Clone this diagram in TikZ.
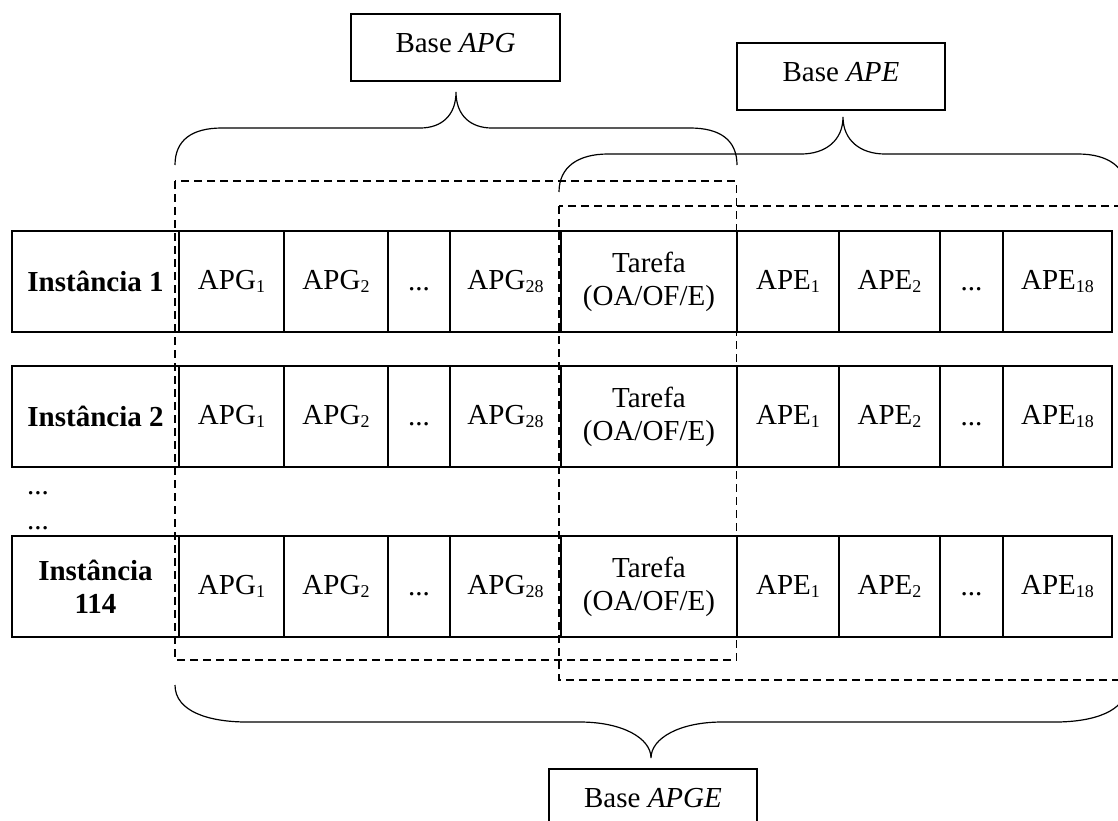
\documentclass[tikz,border=0pt]{standalone}
\usepackage{fontspec}
\setmainfont{Liberation Serif}
% lowered, smaller index used in the cell labels
\newcommand\idx[1]{\raisebox{-2.5pt}{\fontsize{18}{18}\selectfont #1}}
\begin{document}
\begin{tikzpicture}[x=1pt,y=-1pt,
  cell/.style={draw, line width=1.3pt, inner sep=0pt, align=center,
    font=\fontsize{29}{33}\selectfont},
  bx/.style={draw, line width=1.3pt, inner sep=0pt},
  lbl/.style={inner sep=0pt, font=\fontsize{29}{33}\selectfont},
  region/.style={line width=1.5pt, dash pattern=on 8pt off 5pt},
  brace/.style={line width=1.2pt}]

\useasboundingbox (0,0) rectangle (1118,820);

% one instance row: #1 = name prefix, #2 = vertical centre, #3 = row label
\newcommand\instrow[3]{%
  \foreach \cx/\cw/\txt [count=\k from 0] in {
      95.5/167/{#3},
      231.5/105/{APG\idx{1}},
      336/104/{APG\idx{2}},
      419/62/{\vphantom{A}...},
      505.5/111/{APG\idx{28}},
      649/176/{Tarefa\\(OA/OF/E)},
      788/102/{APE\idx{1}},
      889.5/101/{APE\idx{2}},
      971.5/63/{\vphantom{A}...},
      1057.5/109/{APE\idx{18}}}
    \node[cell, minimum width=\cw*1pt, minimum height=101pt] (#1c\k) at (\cx,#2) {\txt};
}

\instrow{ra}{281.5}{\textbf{Instância 1}}
\instrow{rb}{416.5}{\textbf{Instância 2}}
\instrow{rc}{586.5}{\textbf{Instância}\\\textbf{114}}

% elided rows
\node[lbl, anchor=base west] (dota) at (27,494) {...};
\node[lbl, anchor=base west] (dotb) at (27,529) {...};

% dashed regions of the two feature groups
\draw[region] (175,181) rectangle (736.5,660);
\draw[region] (559,206) rectangle (1140,680);

% brace over the APG part
\draw[brace] (175,165) .. controls (175,140) and (192,128) .. (222,128)
  -- (420,128) .. controls (442,128) and (456,115) .. (456,92)
  .. controls (456,115) and (470,128) .. (492,128)
  -- (690,128) .. controls (720,128) and (737,140) .. (737,165);

% brace over the APE part
\draw[brace] (559,192) .. controls (559,167) and (578,154) .. (608,154)
  -- (801,154) .. controls (826,154) and (843,140) .. (843,117)
  .. controls (843,140) and (860,154) .. (885,154)
  -- (1078,154) .. controls (1108,154) and (1127,167) .. (1127,192);

% brace under the whole table
\draw[brace] (175,685) .. controls (175,712) and (210,722) .. (247,722)
  -- (580,722) .. controls (622,722) and (651,738) .. (651,758)
  .. controls (651,738) and (680,722) .. (722,722)
  -- (1055,722) .. controls (1092,722) and (1127,712) .. (1127,685);

% labelled boxes
\node[bx, minimum width=209pt, minimum height=67pt] (bapg) at (455.5,47.5) {};
\node[lbl, anchor=base] (tapg) at (455.5,52) {Base \textit{APG}};

\node[bx, minimum width=208pt, minimum height=67pt] (bape) at (841,76.5) {};
\node[lbl, anchor=base] (tape) at (841,81) {Base \textit{APE}};

\node[bx, minimum width=208pt, minimum height=67pt] (bapge) at (653,802.5) {};
\node[lbl, anchor=base] (tapge) at (653,807) {Base \textit{APGE}};
\end{tikzpicture}
\end{document}
